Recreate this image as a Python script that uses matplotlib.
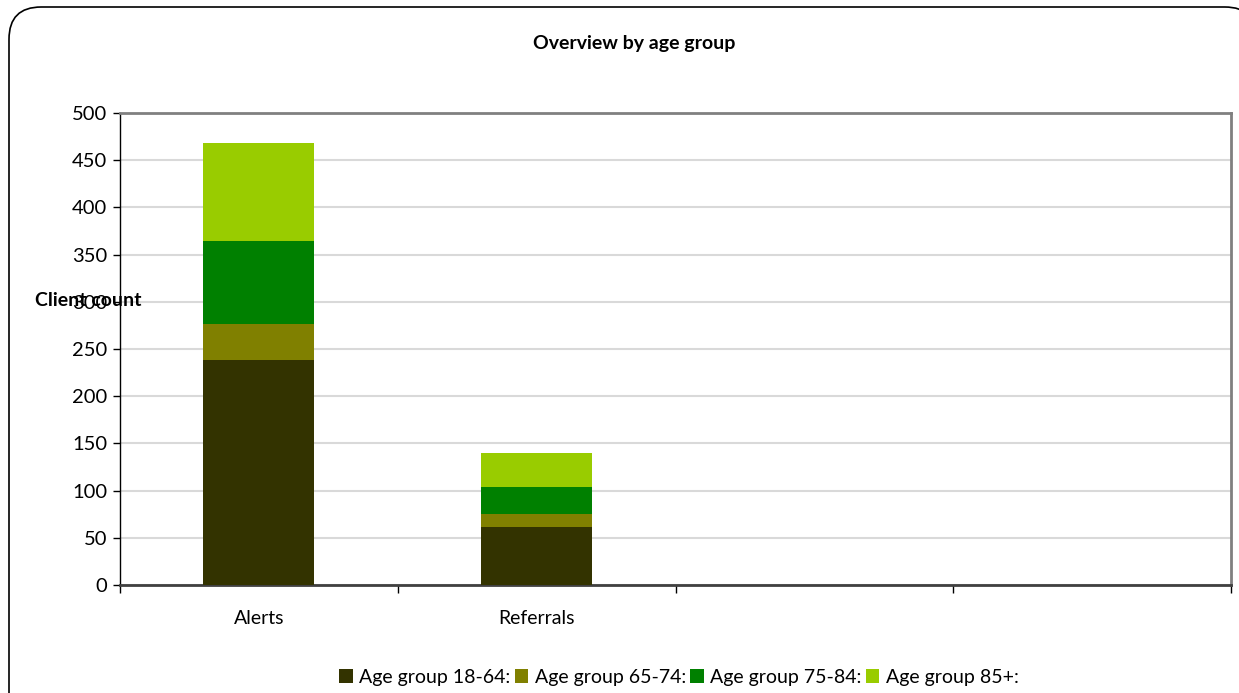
import matplotlib
matplotlib.use("Agg")
import matplotlib.pyplot as plt
from matplotlib.patches import FancyBboxPatch
import numpy as np

plt.rcParams['font.family'] = ['Lato', 'DejaVu Sans']

categories = ["Alerts", "Referrals", "", ""]
series_names = ["Age group 18-64:", "Age group 65-74:", "Age group 75-84:", "Age group 85+:"]
age_18_64 = [238, 61, 0, 0]
age_65_74 = [38, 14, 0, 0]
age_75_84 = [88, 29, 0, 0]
age_85_plus = [104, 36, 0, 0]
colors = ["#333300", "#808000", "#008000", "#99cc00"]
y_ticks = [0, 50, 100, 150, 200, 250, 300, 350, 400, 450, 500]

fig = plt.figure(figsize=(12.39, 6.93), dpi=100)
W, H = 1239, 693

# outer chart frame with rounded corners, drawn behind the axes
frame = FancyBboxPatch((9 / W, -40 / H), (1257 - 9) / W, (693 - 7 + 40) / H,
                       boxstyle="round,pad=0,rounding_size=0.026",
                       transform=fig.transFigure, facecolor="white",
                       edgecolor="black", linewidth=1.2, mutation_aspect=W / H,
                       zorder=-10)
fig.patches.append(frame)

ax = fig.add_axes([120 / W, 1 - 585 / H, (1231 - 120) / W, (585 - 113) / H])
ax.set_facecolor("none")

x = np.arange(len(categories))
series = [age_18_64, age_65_74, age_75_84, age_85_plus]
bottom = np.zeros(len(categories))
handles = []
for vals, col, name in zip(series, colors, series_names):
    b = ax.bar(x, vals, width=0.4, bottom=bottom, color=col, label=name, zorder=3)
    handles.append(b)
    bottom += np.array(vals)

ax.set_xlim(-0.5, len(categories) - 0.5)
ax.set_ylim(0, 500)
ax.set_yticks(y_ticks)
ax.yaxis.grid(True, color="#d9d9d9", linewidth=1.5, zorder=0)
ax.set_axisbelow(True)

ax.set_xticks(x)
ax.set_xticklabels(categories, fontsize=14)
ax.set_xticks(np.arange(-0.5, len(categories)), minor=True)
ax.tick_params(axis="x", which="major", length=0, pad=18)
ax.tick_params(axis="x", which="minor", length=6, width=1, color="black", direction="out")
ax.tick_params(axis="y", length=5, width=1, color="black", labelsize=14.5, pad=4)

for side in ["top", "right"]:
    ax.spines[side].set_color("#808080")
    ax.spines[side].set_linewidth(2)
ax.spines["left"].set_color("black")
ax.spines["left"].set_linewidth(1)
ax.spines["bottom"].set_color("#404040")
ax.spines["bottom"].set_linewidth(2)

fig.text(634 / W, 1 - 43 / H, "Overview by age group", ha="center", va="center",
         fontsize=14, fontweight="bold")
fig.text(35 / W, 1 - 301 / H, "Client count", ha="left", va="center",
         fontsize=14, fontweight="bold")

fig.legend(handles=handles, labels=series_names, loc="center",
           bbox_to_anchor=(679 / W, 1 - 677 / H), ncol=4, frameon=False,
           fontsize=14, handlelength=0.7, handleheight=0.7, handletextpad=0.35,
           columnspacing=0.2, borderaxespad=0)

fig.savefig("out.png", dpi=100)
